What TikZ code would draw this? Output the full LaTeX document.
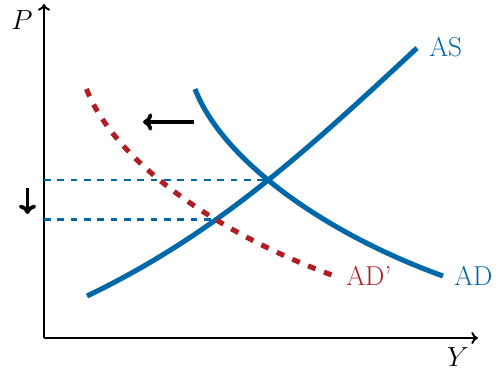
\documentclass[tikz,border=0pt]{standalone}
\usetikzlibrary{arrows.meta}
\definecolor{cblue}{RGB}{0,104,168}
\definecolor{cred}{RGB}{176,30,36}
\begin{document}
\begin{tikzpicture}[x=0.75pt,y=-0.75pt,
  axis/.style={line width=1.5pt,-{To[length=5pt,width=9pt]}},
  curve/.style={cblue,line width=3.8pt},
  shifted/.style={cred,line width=3.8pt,dash pattern=on 6pt off 6.8pt},
  guide/.style={cblue,line width=1.9pt,dash pattern=on 5pt off 5pt},
  shiftarrow/.style={line width=2.8pt,-{To[length=7pt,width=13pt]}},
  lbl/.style={font=\fontsize{20.5}{24}\selectfont,inner sep=0pt}]
\useasboundingbox (0,0) rectangle (496,370);
\coordinate (O) at (44,338);
\coordinate (Ptop) at (44,4);
\coordinate (Yend) at (478,338);
\draw[axis] (O) -- (Ptop);
\draw[axis] (O) -- (Yend);
\node[lbl,anchor=center] (Plab) at (22,20) {$P$};
\node[lbl,anchor=center] (Ylab) at (458,357) {$Y$};
% dashed guides
\coordinate (E1) at (269,180);
\coordinate (E2) at (213,219.5);
\coordinate (G1) at (44,180);
\coordinate (G2) at (44,219.5);
\draw[guide] (G1) -- (E1);
\draw[guide] (G2) -- (E2);
% AS
\coordinate (AS0) at (87,296);
\coordinate (AS1) at (417,48);
\draw[curve] (AS0) .. controls (217,233.6) and (307,150.3) .. (AS1);
% AD
\coordinate (AD0) at (195,89);
\coordinate (AD1) at (443,276);
\draw[curve] (AD0) .. controls (223,161.8) and (328,234.6) .. (AD1);
% AD'
\coordinate (ADp0) at (86.5,89);
\coordinate (ADp1) at (334.5,276);
\draw[shifted] (ADp0) .. controls (114.5,161.8) and (219.5,234.6) .. (ADp1);
% labels
\node[lbl,cblue,anchor=west] (ASlab) at (429,47) {AS};
\node[lbl,cblue,anchor=west] (ADlab) at (454,276) {AD};
\node[lbl,cred,anchor=west] (ADplab) at (346,276) {AD’};
% shift arrows
\coordinate (L0) at (194,122);
\coordinate (L1) at (143,122);
\draw[shiftarrow] (L0) -- (L1);
\coordinate (D0) at (27.5,188);
\coordinate (D1) at (27.5,214);
\draw[shiftarrow] (D0) -- (D1);
\end{tikzpicture}
\end{document}
